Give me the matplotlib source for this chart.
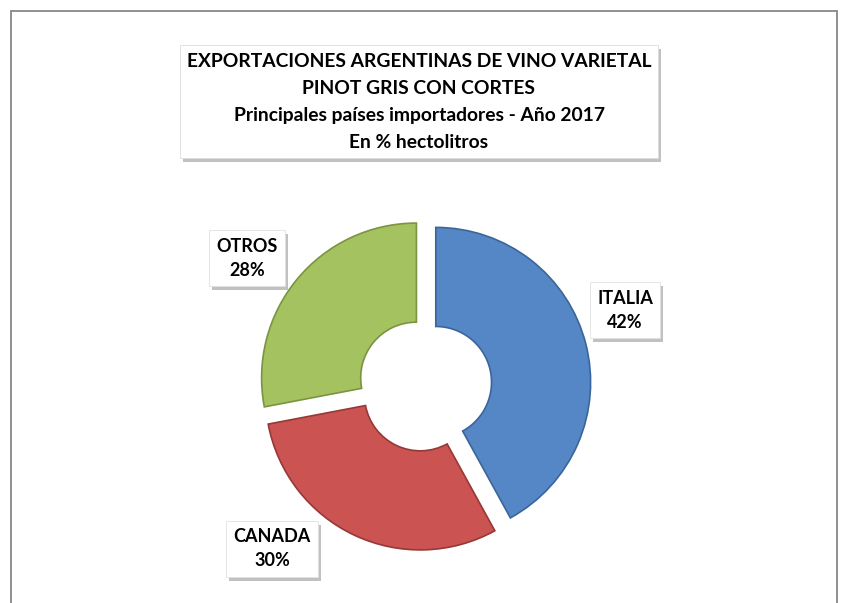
import matplotlib
matplotlib.use("Agg")
import matplotlib.pyplot as plt
import matplotlib.patches as mpatches
import matplotlib.patheffects as pe

# data
paises = ["ITALIA", "CANADA", "OTROS"]
porcentajes = [42, 30, 28]
colores = ["#5587C7", "#CB5452", "#A5C261"]
bordes = ["#3A6598", "#963836", "#7A9440"]

titulo = ("EXPORTACIONES ARGENTINAS DE VINO VARIETAL\n"
          "PINOT GRIS CON CORTES\n"
          "Principales países importadores - Año 2017\n"
          "En % hectolitros")

FONT = "Lato"
W, H = 844, 603

fig = plt.figure(figsize=(W / 100, H / 100), dpi=100)
fig.patch.set_facecolor("white")

# outer frame
frame = mpatches.Rectangle((11 / W, -0.05), (837 - 11) / W, 1.05 - 11 / H,
                           transform=fig.transFigure, fill=False,
                           edgecolor="#888888", linewidth=1.3)
fig.patches.append(frame)

shadow = [pe.SimplePatchShadow(offset=(2, -3), shadow_rgbFace="#999999", alpha=0.6),
          pe.Normal()]

# title box + text
tbox = mpatches.Rectangle((180 / W, 1 - 158 / H), (658 - 180) / W, (158 - 45) / H,
                          transform=fig.transFigure, facecolor="white",
                          edgecolor="#dddddd", linewidth=0.6)
tbox.set_path_effects(shadow)
fig.patches.append(tbox)
fig.text(419 / W, 1 - 102 / H, titulo, ha="center", va="center",
         fontsize=13.9, fontweight="bold", family=FONT, linespacing=1.7)

# donut
cx, cy, R = 425, 385, 164
half = 1.18 * R
ax = fig.add_axes([(cx - half) / W, (H - cy - half) / H, 2 * half / W, 2 * half / H])
ax.set_xlim(-1.18, 1.18)
ax.set_ylim(-1.18, 1.18)
ax.set_aspect("equal")
ax.axis("off")

wedges, _ = ax.pie(porcentajes, colors=colores, startangle=90, counterclock=False,
                   radius=1.0, explode=[0.072] * len(porcentajes),
                   wedgeprops=dict(width=0.64, linewidth=1.2))
for w, b in zip(wedges, bordes):
    w.set_edgecolor(b)

# data labels
label_pos = {"ITALIA": (625, 310), "CANADA": (272, 549), "OTROS": (247, 258)}
for p, v in zip(paises, porcentajes):
    x, y = label_pos[p]
    txt = fig.text(x / W, 1 - y / H, f"{p}\n{v}%", ha="center", va="center",
                   fontsize=13, fontweight="bold", family=FONT, linespacing=1.5,
                   bbox=dict(boxstyle="square,pad=0.4", facecolor="white",
                             edgecolor="#e0e0e0", linewidth=0.6))
    txt.get_bbox_patch().set_path_effects(shadow)

fig.savefig("out.png", dpi=100)
